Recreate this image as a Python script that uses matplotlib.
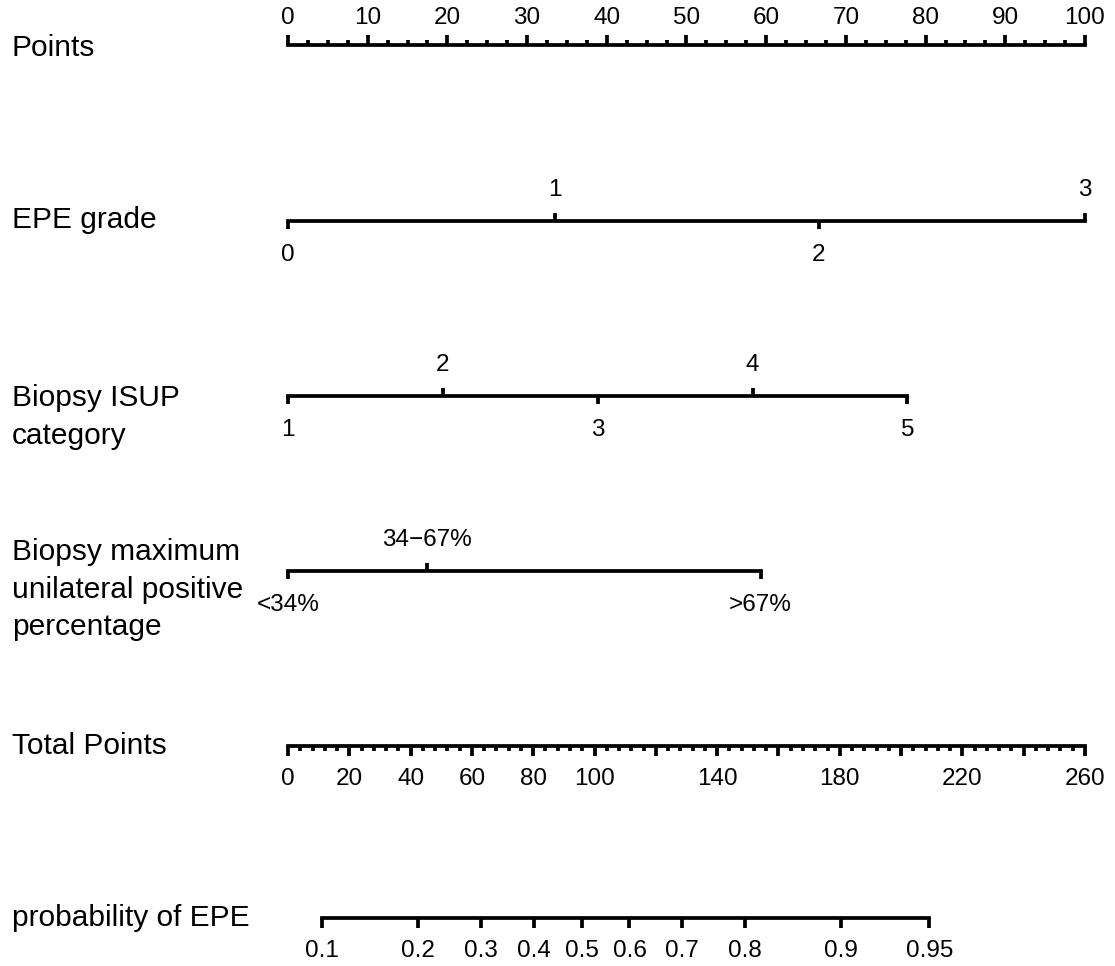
import matplotlib
matplotlib.use('Agg')
import matplotlib.pyplot as plt

plt.rcParams['font.family'] = ['Liberation Sans', 'DejaVu Sans']

# ------------------------------------------------------------------
# nomogram data (in "Points" units)
# ------------------------------------------------------------------
points_labels = [0, 10, 20, 30, 40, 50, 60, 70, 80, 90, 100]
points_minor_step = 2.5

epe_labels = ['0', '1', '2', '3']
epe_points = [0, 33.5, 66.6, 100]

isup_labels = ['1', '2', '3', '4', '5']
isup_points = [0, 19.4, 38.9, 58.3, 77.7]

bmp_labels = ['<34%', '34\u221267%', '>67%']
bmp_points = [0, 17.4, 59.3]

total_max = 260
total_major = [0, 20, 40, 60, 80, 100, 120, 140, 160, 180, 200, 220, 240, 260]
total_labels = [0, 20, 40, 60, 80, 100, 140, 180, 220, 260]
total_minor_step = 4

prob_labels = ['0.1', '0.2', '0.3', '0.4', '0.5', '0.6', '0.7', '0.8', '0.9', '0.95']
prob_total = [11.1, 42.3, 63.1, 80.1, 95.75, 111.4, 128.4, 149.2, 180.4, 209.2]

var_names = ['Points', 'EPE grade', 'Biopsy ISUP\ncategory',
             'Biopsy maximum\nunilateral positive\npercentage',
             'Total Points', 'probability of EPE']

# ------------------------------------------------------------------
# layout (pixels)
# ------------------------------------------------------------------
W, H = 1115, 966
x0, px_per_pt = 288, 7.97
row_y = [45, 221, 396, 571, 746, 918]
name_y = [48, 220, 398, 552, 746, 918]
line_gap = 37.5
lw = 2.7
fs_name = 21.5
fs_tick = 17.5
major_len, minor_len = 10, 5

fig = plt.figure(figsize=(W / 100, H / 100), dpi=100)
ax = fig.add_axes([0, 0, 1, 1])
ax.set_xlim(-x0 / px_per_pt, (W - x0) / px_per_pt)
ax.set_ylim(H, 0)
ax.axis('off')


def tick(x, y, length, up):
    d = -length if up else length
    ax.plot([x, x], [y, y + d], color='black', lw=lw, solid_capstyle='butt')


def hline(x1, x2, y):
    ax.plot([x1, x2], [y, y], color='black', lw=lw, solid_capstyle='projecting')


# variable names (one text per line to control spacing)
for name, y in zip(var_names, name_y):
    for k, part in enumerate(name.split('\n')):
        ax.text(-x0 / px_per_pt + 12 / px_per_pt, y + k * line_gap, part,
                fontsize=fs_name, va='center', ha='left')

# Points axis
y = row_y[0]
hline(0, 100, y)
n_minor = int(100 / points_minor_step)
for i in range(n_minor + 1):
    v = i * points_minor_step
    if v in points_labels:
        tick(v, y, major_len, True)
    else:
        tick(v, y, minor_len, True)
for v in points_labels:
    ax.text(v, y - 27, str(v), fontsize=fs_tick, ha='center', va='center')


# categorical axes
def cat_axis(labels, pts, y):
    hline(min(pts), max(pts), y)
    for i, (lab, p) in enumerate(zip(labels, pts)):
        up = i % 2 == 1
        tick(p, y, 8, up)
        ty = y - 31 if up else y + 34
        ax.text(p, ty, lab, fontsize=fs_tick, ha='center', va='center')


cat_axis(epe_labels, epe_points, row_y[1])
cat_axis(isup_labels, isup_points, row_y[2])
cat_axis(bmp_labels, bmp_points, row_y[3])

# Total Points axis
y = row_y[4]
scale = 100 / total_max
hline(0, 100, y)
for v in range(0, total_max + 1, total_minor_step):
    if v in total_major:
        tick(v * scale, y, major_len, False)
    else:
        tick(v * scale, y, minor_len, False)
for v in total_labels:
    ax.text(v * scale, y + 33, str(v), fontsize=fs_tick, ha='center', va='center')

# probability axis
y = row_y[5]
hline(prob_total[0] * scale, prob_total[-1] * scale, y)
for lab, t in zip(prob_labels, prob_total):
    tick(t * scale, y, major_len, False)
    ax.text(t * scale, y + 33, lab, fontsize=fs_tick, ha='center', va='center')

fig.savefig('out.png', dpi=100, facecolor='white')
